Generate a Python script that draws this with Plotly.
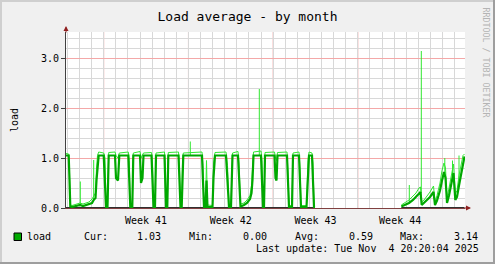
import pandas as pd
import plotly.graph_objects as go

# ---------------- data ----------------
START = pd.Timestamp("2025-10-02 21:10")   # left edge of the graph
SPAN_DAYS = 32.975                          # graph covers ~33 days

# average load, sampled at day offsets from START (None = unknown / no data)
avg_day = [0.000, 0.223, 0.289, 0.355, 0.496, 0.744, 0.992, 1.157, 1.405, 1.653,
           1.901, 2.149, 2.314, 2.438, 2.521, 2.603, 2.702, 3.116, 3.223, 3.306,
           3.430, 3.529, 4.050, 4.132, 4.298, 4.405, 5.149, 5.231, 5.314, 5.479,
           5.562, 6.116, 6.198, 6.322, 6.405, 7.066, 7.149, 7.231, 7.355, 7.438,
           8.140, 8.207, 8.264, 8.372, 8.455, 9.298, 9.380, 9.463, 9.562, 9.628,
           9.694, 11.240, 11.322, 11.405, 11.529, 11.612, 11.694, 12.107, 12.190, 12.314,
           13.223, 13.347, 13.471, 13.636, 13.760, 14.215, 14.298, 14.421, 14.711, 14.959,
           15.207, 15.331, 15.413, 15.496, 16.116, 16.198, 16.281, 16.364, 16.446, 17.231,
           17.314, 17.397, 17.479, 18.264, 18.347, 18.430, 18.678, 18.760, 19.256, 19.339,
           19.421, 19.876, 20.000, 20.083, 20.331, 20.413, 20.496, 20.579,
           24.000,
           27.711, 28.017, 28.347, 28.678, 28.926, 29.174, 29.298, 29.397, 29.587, 29.835,
           30.083, 30.372, 30.496, 30.661, 30.909, 31.074, 31.240, 31.364, 31.488, 31.653,
           31.818, 32.025, 32.174, 32.314, 32.479, 32.645, 32.810, 32.934]
avg_load = [1.05, 1.05, 0.56, 0.03, 0.02, 0.04, 0.05, 0.06, 0.04, 0.06,
            0.07, 0.10, 0.17, 0.20, 0.55, 0.80, 1.05, 1.05, 0.60, 0.02,
            0.02, 1.05, 1.05, 0.60, 0.55, 1.05, 1.05, 0.60, 0.02, 0.02,
            1.05, 1.05, 0.50, 0.60, 1.05, 1.05, 0.55, 0.02, 0.02, 1.05,
            1.05, 0.50, 0.02, 0.02, 1.05, 1.05, 0.50, 0.02, 0.02, 0.60,
            1.05, 1.05, 0.50, 0.02, 0.02, 0.55, 0.02, 0.02, 0.60, 1.05,
            1.05, 0.50, 0.02, 0.02, 1.05, 1.05, 0.50, 0.03, 0.06, 0.10,
            0.18, 0.30, 0.56, 1.05, 1.05, 0.60, 0.02, 0.02, 1.05, 1.05,
            0.60, 0.55, 1.05, 1.05, 0.30, 0.02, 0.02, 1.05, 1.05, 0.40,
            0.02, 0.02, 0.70, 1.05, 1.05, 0.60, 0.02, 0.02,
            None,
            0.03, 0.06, 0.10, 0.16, 0.22, 0.30, 0.32, 0.06, 0.10, 0.16,
            0.22, 0.32, 0.06, 0.15, 0.35, 0.55, 0.72, 0.60, 0.10, 0.25,
            0.45, 0.70, 0.16, 0.22, 0.45, 0.65, 0.90, 1.03]
# maximum load at the same sample times
max_load = [1.09, 1.08, 0.70, 0.06, 0.05, 0.07, 0.09, 0.10, 0.08, 0.10,
            0.12, 0.18, 0.25, 0.30, 0.80, 1.05, 1.12, 1.10, 1.00, 0.05,
            0.05, 1.11, 1.12, 1.05, 1.00, 1.10, 1.12, 0.95, 0.05, 0.05,
            1.10, 1.13, 1.00, 1.05, 1.10, 1.11, 0.90, 0.05, 0.05, 1.10,
            1.12, 0.85, 0.05, 0.06, 1.11, 1.12, 0.80, 0.05, 0.05, 0.90,
            1.10, 1.12, 0.85, 0.05, 0.06, 0.95, 0.06, 0.05, 0.90, 1.11,
            1.12, 0.85, 0.05, 0.05, 1.10, 1.13, 0.90, 0.08, 0.10, 0.16,
            0.25, 0.45, 0.85, 1.12, 1.14, 0.95, 0.05, 0.05, 1.11, 1.12,
            1.00, 0.95, 1.11, 1.12, 0.70, 0.05, 0.05, 1.10, 1.12, 0.80,
            0.05, 0.05, 0.95, 1.12, 1.10, 0.90, 0.05, 0.04,
            None,
            0.06, 0.10, 0.16, 0.24, 0.30, 0.40, 0.42, 0.12, 0.16, 0.24,
            0.32, 0.44, 0.12, 0.25, 0.50, 0.75, 0.90, 0.80, 0.20, 0.40,
            0.65, 0.88, 0.28, 0.35, 0.65, 0.85, 1.05, 1.08]
# short peaks of the maximum
spike_day = [1.182, 2.289, 10.273, 15.975, 28.372, 29.364, 31.306, 31.942, 32.479]
spike_base = [0.06, 0.15, 1.05, 1.05, 0.10, 0.30, 0.70, 0.65, 0.45]
spike_peak = [0.53, 0.96, 1.33, 2.38, 0.46, 3.14, 1.00, 0.95, 1.05]
# spans (day offsets) where data is known; minimum stays 0 there
known_from = [0.0, 27.711]
known_to = [20.579, 32.934]
min_value = 0.0

week_start = ["2025-10-06", "2025-10-13", "2025-10-20", "2025-10-27", "2025-11-03"]
week_label = ["Week 41", "Week 42", "Week 43", "Week 44"]
y_ticks = [0, 1, 2, 3]

title_text = "Load average - by month"
stats = {"Cur:": "1.03", "Min:": "0.00", "Avg:": "0.59", "Max:": "3.14"}
last_update = "Last update: Tue Nov  4 20:20:04 2025"
watermark = "RRDTOOL / TOBI OETIKER"

# ---------------- build ----------------
def t(d):
    return None if d is None else START + pd.Timedelta(days=d)

avg_x = [t(d) for d in avg_day]

spk_x, spk_y = [], []
for d, b, p in zip(spike_day, spike_base, spike_peak):
    spk_x += [t(d), t(d), None]
    spk_y += [b, p, None]

min_x, min_y = [], []
for a, b in zip(known_from, known_to):
    min_x += [t(a), t(b), None]
    min_y += [min_value, min_value, None]

FONT = "DejaVu Sans Mono"
DARK = "#00a800"
BRIGHT = "#30e830"

fig = go.Figure()
fig.add_trace(go.Scatter(x=min_x, y=min_y, mode="lines",
                         line=dict(color="#303030", width=2), hoverinfo="skip"))
fig.add_trace(go.Scatter(x=avg_x, y=max_load, mode="lines",
                         line=dict(color=BRIGHT, width=1), hoverinfo="skip"))
fig.add_trace(go.Scatter(x=spk_x, y=spk_y, mode="lines",
                         line=dict(color=BRIGHT, width=1), hoverinfo="skip"))
fig.add_trace(go.Scatter(x=avg_x, y=avg_load, mode="lines", name="load",
                         line=dict(color=DARK, width=2.2)))

# geometry helpers (pixel -> paper)
L, R, T, B = 66, 465, 32, 208
W, H = 495, 264
def px(x):
    return (x - L) / (R - L)
def py(y):
    return (B - y) / (B - T)

x_end = START + pd.Timedelta(days=SPAN_DAYS)
mid_week = [pd.Timestamp(w) + pd.Timedelta(days=3.5) for w in week_start[:-1]]

fig.update_layout(
    width=W, height=H,
    margin=dict(l=L, r=W - R, t=T, b=H - B),
    paper_bgcolor="#f0f0f0", plot_bgcolor="#ffffff",
    showlegend=False,
    font=dict(family=FONT, size=10, color="#000000"),
    title=dict(text=title_text, x=0.5, xref="container", xanchor="center",
               y=1 - 16.7 / H, yref="container", yanchor="middle",
               font=dict(family=FONT, size=13, color="#000000")),
    xaxis=dict(type="date", range=[START, x_end], tickmode="array",
               tickvals=mid_week, ticktext=week_label, showgrid=False,
               ticks="", showline=True, linecolor="#804040", linewidth=1,
               zeroline=False, fixedrange=True, ticklabelstandoff=3,
               minor=dict(dtick=86400000, tick0="2025-10-06", showgrid=True,
                          gridcolor="#d8d8d8", gridwidth=1, ticks="")),
    yaxis=dict(range=[0, (B - T) / 50], tickmode="array", tickvals=y_ticks,
               ticktext=[f"{v:.1f}" for v in y_ticks],
               showgrid=True, gridcolor="#f4a8a8", gridwidth=1,
               ticks="outside", ticklen=4, tickcolor="#404040",
               showline=True, linecolor="#404040", linewidth=1, zeroline=False,
               fixedrange=True,
               minor=dict(dtick=0.2, showgrid=True, gridcolor="#d8d8d8", gridwidth=1)),
)

shapes = []
for w in week_start:
    shapes.append(dict(type="line", xref="x", yref="paper", x0=w, x1=w, y0=0, y1=1,
                       line=dict(color="#f4a8a8", width=1), layer="between"))
# legend colour box
shapes.append(dict(type="rect", xref="paper", yref="paper",
                   x0=px(14), x1=px(21.5), y0=py(240.5), y1=py(233),
                   fillcolor="#00aa00", line=dict(color="#000000", width=1)))
# 3D frame of the image
frame = [((0, 1), (W, 1), "#cfcfcf"), ((1, 0), (1, H), "#cfcfcf"),
         ((0, H - 1), (W, H - 1), "#9e9e9e"), ((W - 1, 0), (W - 1, H), "#9e9e9e")]
for (x0, y0), (x1, y1), c in frame:
    shapes.append(dict(type="line", xref="paper", yref="paper",
                       x0=px(x0), x1=px(x1), y0=py(y0), y1=py(y1),
                       line=dict(color=c, width=2)))
fig.update_layout(shapes=shapes)

ann = []
# axis arrows
ann.append(dict(x=0, y=py(26), xref="paper", yref="paper", text="", showarrow=True,
                ax=0, ay=8, arrowhead=2, arrowsize=1, arrowwidth=1, arrowcolor="#902020"))
ann.append(dict(x=px(471), y=0, xref="paper", yref="paper", text="", showarrow=True,
                ax=-8, ay=0, arrowhead=2, arrowsize=1, arrowwidth=1, arrowcolor="#902020"))
# y axis title
ann.append(dict(x=px(14), y=0.5, xref="paper", yref="paper", text="load",
                textangle=-90, showarrow=False, xanchor="center", yanchor="middle",
                font=dict(family=FONT, size=10)))
# watermark
ann.append(dict(x=px(485.5), y=py(62), xref="paper", yref="paper", text=watermark,
                textangle=90, showarrow=False, xanchor="center", yanchor="middle",
                font=dict(family=FONT, size=8.3, color="#b4b4b4")))
# legend line
row = py(236)
ann.append(dict(x=px(26), y=row, xref="paper", yref="paper", text="load",
                showarrow=False, xanchor="left", yanchor="middle", borderpad=0))
label_x = [82.7, 187.7, 294, 399.3]
value_r = [161.7, 268.3, 374, 479.3]
for (k, v), lx, vr in zip(stats.items(), label_x, value_r):
    ann.append(dict(x=px(lx), y=row, xref="paper", yref="paper", text=k,
                    showarrow=False, xanchor="left", yanchor="middle", borderpad=0))
    ann.append(dict(x=px(vr), y=row, xref="paper", yref="paper", text=v,
                    showarrow=False, xanchor="right", yanchor="middle", borderpad=0))
ann.append(dict(x=px(480), y=py(248.3), xref="paper", yref="paper", text=last_update,
                showarrow=False, xanchor="right", yanchor="middle", borderpad=0))
fig.update_layout(annotations=ann)

fig.write_html("out.html")
